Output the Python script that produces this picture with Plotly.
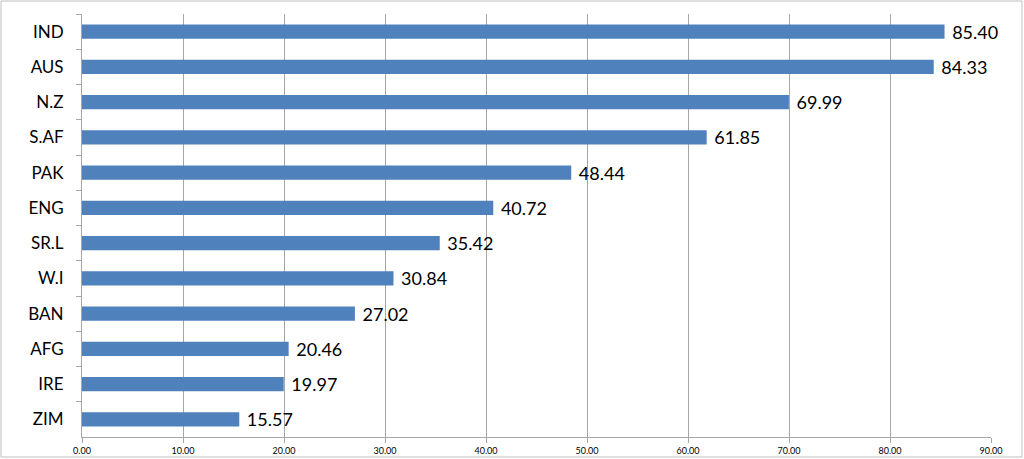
import plotly.graph_objects as go

teams = ["IND", "AUS", "N.Z", "S.AF", "PAK", "ENG", "SR.L", "W.I", "BAN", "AFG", "IRE", "ZIM"]
values = [85.40, 84.33, 69.99, 61.85, 48.44, 40.72, 35.42, 30.84, 27.02, 20.46, 19.97, 15.57]
x_ticks = [0, 10, 20, 30, 40, 50, 60, 70, 80, 90]

FONT = "Lato, Noto Sans, sans-serif"

fig = go.Figure(go.Bar(
    x=values, y=teams, orientation="h",
    marker=dict(color="#4F81BD", line=dict(width=0)),
    width=0.41,
    text=values, texttemplate=" %{x:.2f}", textposition="outside",
    constraintext="none",
    textfont=dict(family=FONT, size=18, color="#000000"),
    cliponaxis=False,
    hoverinfo="skip",
))

W, H = 1024, 459
L, R, T, B = 82, 33, 14, 22
pw, ph = W - L - R, H - T - B

def px(x):
    return (x - L) / pw

def py(y):
    return (H - B - y) / ph

fig.add_shape(type="rect", xref="paper", yref="paper",
              x0=px(1), x1=px(1022), y0=py(457), y1=py(1),
              line=dict(color="#BFBFBF", width=1), layer="below")

fig.update_layout(
    width=W, height=H,
    margin=dict(l=L, r=R, t=T, b=B, pad=0, autoexpand=False),
    paper_bgcolor="white", plot_bgcolor="white",
    showlegend=False,
    xaxis=dict(
        range=[0, 90], tickvals=x_ticks, ticktext=[f"{v:.2f}" for v in x_ticks],
        showgrid=True, gridcolor="#A6A6A6", gridwidth=1,
        showline=True, linecolor="#A6A6A6", linewidth=1,
        ticks="outside", ticklen=5, tickcolor="#A6A6A6",
        tickfont=dict(family=FONT, size=9, color="#000000"),
        zeroline=False, automargin=False,
    ),
    yaxis=dict(
        autorange="reversed",
        showline=True, linecolor="#A6A6A6", linewidth=1,
        ticks="outside", ticklen=5, tickcolor="#A6A6A6", tickson="boundaries",
        tickfont=dict(family=FONT, size=17, color="#000000"),
        ticklabelstandoff=14,
        showgrid=False, automargin=False,
    ),
)

fig.write_html("out.html", config={"displayModeBar": False},
               post_script="document.body.style.margin='0';document.body.style.overflow='hidden';")
